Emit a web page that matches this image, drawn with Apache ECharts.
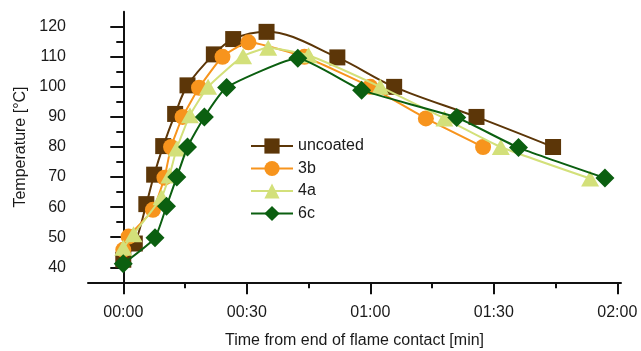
<!DOCTYPE html>
<html>
<head>
<meta charset="utf-8">
<script src="https://cdn.jsdelivr.net/npm/echarts@6/dist/echarts.min.js"></script>
<style>html,body{margin:0;padding:0;background:#fff;}#c{width:641px;height:351px;}</style>
</head>
<body>
<div id="c"></div>
<script>
// time in seconds from end of flame contact, temperature in °C
const seriesNames = ['uncoated', '3b', '4a', '6c'];
const uncoated = [[0,42.5],[2.8,47.9],[5.6,61],[7.5,70.8],[9.7,80.3],[12.6,91],[15.6,100.5],[22,110.8],[26.7,115.9],[34.8,118.3],[52,109.8],[65.8,100],[85.8,90],[104.4,80]];
const s3b = [[0,45.8],[1.3,50.2],[7.2,59.1],[10,69.8],[11.6,80],[14.4,90],[18.4,99.7],[24.1,110],[30.4,114.8],[44,110],[60,100],[73.5,89.5],[87.4,80]];
const s4a = [[0,46.5],[2.5,51],[9.3,63.3],[11.2,70.5],[13,79.5],[16.2,90.6],[20.6,100],[29.1,110.2],[35.2,113],[45,110.5],[62.4,100],[78,89.5],[91.7,80],[113.4,69.5]];
const s6c = [[0,41.2],[7.7,49.8],[10.5,60.3],[13,70],[15.6,80],[19.7,90],[25.1,99.8],[42.4,109.5],[57.9,98.9],[81,89.8],[96,79.8],[117,69.7]];
const xMajor = [0,30,60,90,120];
const xMinor = [15,45,75,105];
const yMajor = [40,50,60,70,80,90,100,110,120];
const yMinor = [45,55,65,75,85,95,105,115];

const FONT = 'Liberation Sans, Arial, sans-serif';
const TXT = '#1a1a1a';
function fmt(v){ const m = Math.floor(v/60), s = Math.round(v%60); return String(m).padStart(2,'0')+':'+String(s).padStart(2,'0'); }

const chart = echarts.init(document.getElementById('c'), null, {renderer:'canvas'});
const xmin = -8.57, xmax = 120.9, ymin = 35, ymax = 125;
const axisLine = {show:true, lineStyle:{color:'#111', width:2}};
chart.setOption({
  animation:false,
  backgroundColor:'#fff',
  grid:{left:88, right:20, top:11.7, bottom:68.7, containLabel:false, outerBoundsMode:'none'},
  legend:{
    left:245, top:131.5, orient:'vertical', itemWidth:42, itemHeight:19, itemGap:3.5,
    textStyle:{fontFamily:FONT, fontSize:16, color:TXT, lineHeight:19},
    data:seriesNames
  },
  xAxis:[{
    type:'value', min:xmin, max:xmax,
    name:'Time from end of flame contact [min]', nameLocation:'middle', nameGap:50,
    nameTextStyle:{fontFamily:FONT, fontSize:16, color:TXT},
    axisLine:axisLine,
    axisTick:{show:true, length:12, customValues:xMajor, lineStyle:{color:'#111', width:2}},
    axisLabel:{customValues:xMajor, formatter:fmt, margin:22, fontFamily:FONT, fontSize:16, color:TXT},
    splitLine:{show:false}
  },{
    type:'value', min:xmin, max:xmax, position:'bottom',
    axisLine:{show:false},
    axisTick:{show:true, length:6, customValues:xMinor, lineStyle:{color:'#111', width:2}},
    axisLabel:{show:false}, splitLine:{show:false}
  }],
  yAxis:[{
    type:'value', min:ymin, max:ymax,
    name:'Temperature [°C]', nameLocation:'middle', nameGap:58, nameRotate:90,
    nameTextStyle:{fontFamily:FONT, fontSize:16, color:TXT},
    axisLine:axisLine,
    axisTick:{show:true, length:13, customValues:yMajor, lineStyle:{color:'#111', width:2}},
    axisLabel:{customValues:yMajor, margin:22, fontFamily:FONT, fontSize:16, color:TXT},
    splitLine:{show:false}
  },{
    type:'value', min:ymin, max:ymax, position:'left',
    axisLine:{show:false},
    axisTick:{show:true, length:7, customValues:yMinor, lineStyle:{color:'#111', width:2}},
    axisLabel:{show:false}, splitLine:{show:false}
  }],
  series:[
    {name:'uncoated', type:'line', data:uncoated, smooth:0.35, symbol:'rect', symbolSize:16,
     itemStyle:{color:'#5c3608'}, lineStyle:{color:'#5c3608', width:2}, z:2},
    {name:'3b', type:'line', data:s3b, smooth:0.15, symbol:'circle', symbolSize:16,
     itemStyle:{color:'#f7941d'}, lineStyle:{color:'#f7941d', width:2}, z:3},
    {name:'4a', type:'line', data:s4a, smooth:0.15, symbol:'triangle', symbolSize:[18,16],
     itemStyle:{color:'#d3e07a'}, lineStyle:{color:'#d3e07a', width:2}, z:4},
    {name:'6c', type:'line', data:s6c, smooth:0.15, symbol:'diamond', symbolSize:19,
     itemStyle:{color:'#0b5f10'}, lineStyle:{color:'#0b5f10', width:2}, z:5}
  ]
});
</script>
</body>
</html>
